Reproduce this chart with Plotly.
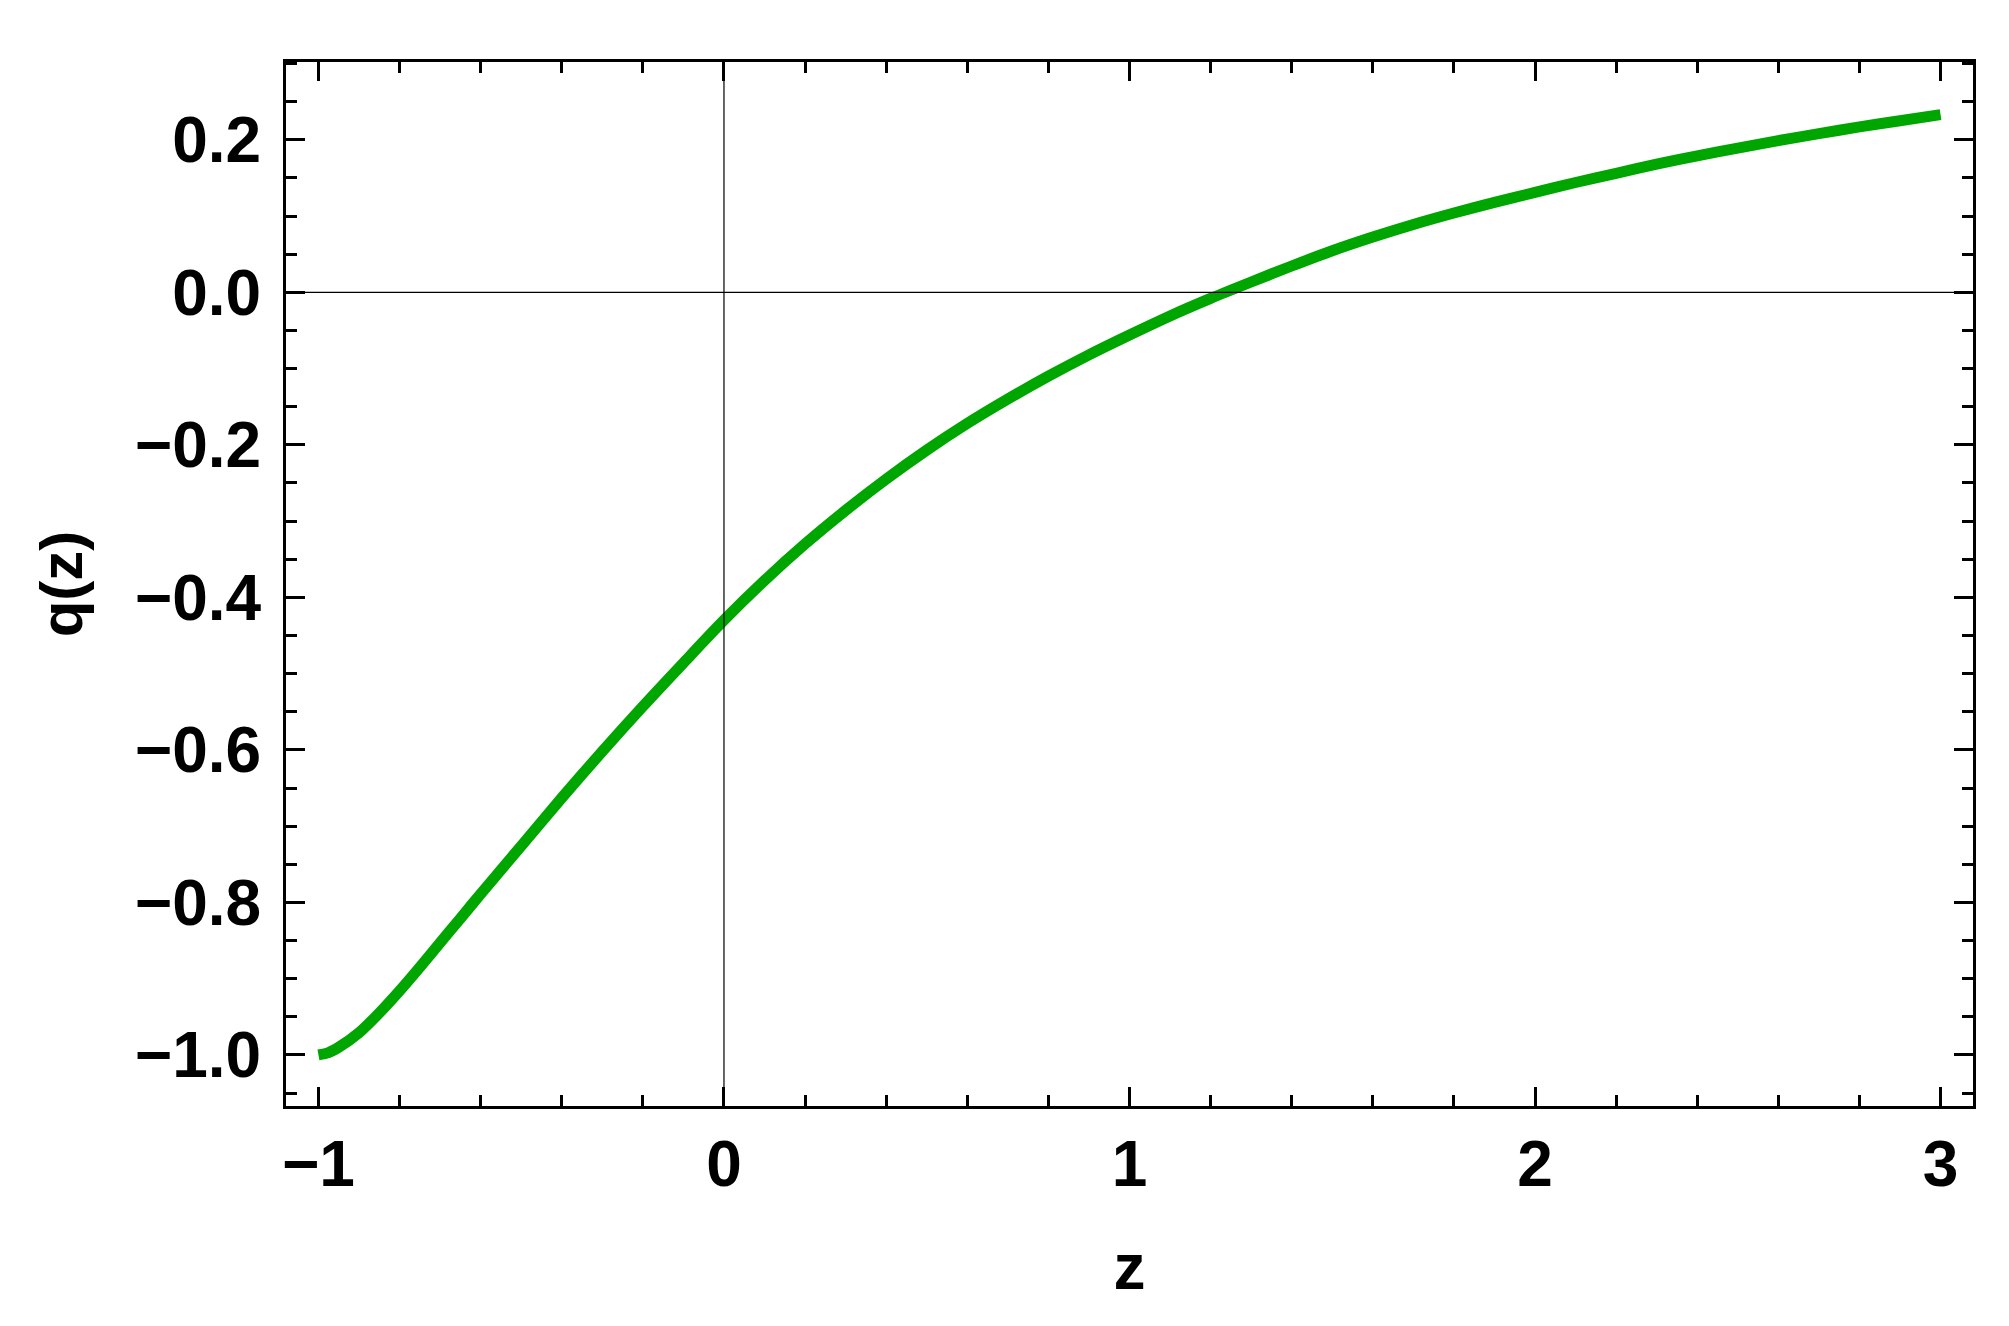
import plotly.graph_objects as go

# Data
z_vals = [-1.0, -0.975, -0.95, -0.9, -0.85, -0.8, -0.75, -0.7, -0.65, -0.6, -0.5, -0.4, -0.3, -0.2, -0.1,
          0.0, 0.1, 0.2, 0.3, 0.4, 0.5, 0.6, 0.7, 0.8, 0.9, 1.0, 1.1, 1.2, 1.3,
          1.4, 1.5, 1.6, 1.7, 1.8, 1.9, 2.0, 2.1, 2.2, 2.3, 2.4, 2.5, 2.6, 2.7, 2.8, 2.9, 3.0]
q_vals = [-1.000, -0.997, -0.990, -0.971, -0.945, -0.916, -0.885, -0.853, -0.821, -0.789, -0.726, -0.663, -0.602, -0.543, -0.486,
          -0.430, -0.378, -0.330, -0.286, -0.245, -0.207, -0.172, -0.140, -0.110, -0.082, -0.056, -0.031, -0.008, 0.0135,
          0.0345, 0.0545, 0.0725, 0.089, 0.104, 0.118, 0.131, 0.144, 0.156, 0.168, 0.179, 0.189, 0.199, 0.208, 0.217, 0.225, 0.233]

x_ticks = [-1, 0, 1, 2, 3]
y_ticks = [-1.0, -0.8, -0.6, -0.4, -0.2, 0.0, 0.2]

x_title = "z"
y_title = "q(z)"

FONT = dict(family="Liberation Sans, Arial, sans-serif", size=64, color="black", weight="bold")

fig = go.Figure()
fig.add_trace(go.Scatter(
    x=z_vals, y=q_vals, mode="lines",
    line=dict(color="#00A600", width=11, shape="spline", smoothing=0.8),
    showlegend=False, hoverinfo="skip",
))

axis_common = dict(
    showline=True, linecolor="black", linewidth=3, mirror="allticks",
    ticks="inside", ticklen=19, tickwidth=3, tickcolor="black",
    showgrid=False, zeroline=False,
    tickfont=FONT, layer="above traces",
)

fig.update_xaxes(
    range=[-1.08, 3.08], tickmode="array", tickvals=x_ticks,
    ticktext=[("\u2212" + str(abs(v))) if v < 0 else str(v) for v in x_ticks],
    minor=dict(ticks="inside", ticklen=11, tickwidth=3, tickcolor="black", dtick=0.2, tick0=0),
    title=dict(text=x_title, font=FONT, standoff=46),
    ticklabelstandoff=0,
    **axis_common,
)
fig.update_yaxes(
    range=[-1.067, 0.302], tickmode="array", tickvals=y_ticks,
    ticktext=[("\u2212" if v < 0 else "") + f"{abs(v):.1f}" for v in y_ticks],
    minor=dict(ticks="inside", ticklen=11, tickwidth=3, tickcolor="black", dtick=0.05, tick0=0),
    title=dict(text=y_title, font=dict(FONT, size=60), standoff=33),
    ticklabelstandoff=9,
    **axis_common,
)

# thin coordinate axes through the origin
fig.add_shape(type="line", xref="paper", x0=0, x1=1, yref="y", y0=0, y1=0,
              line=dict(color="black", width=1.2), layer="above")
fig.add_shape(type="line", xref="x", x0=0, x1=0, yref="paper", y0=0, y1=1,
              line=dict(color="black", width=1.2), layer="above")

# the page body has an 8px default margin, so the figure is 8px smaller
fig.update_layout(
    width=2001, height=1318,
    margin=dict(l=278, r=36, t=54, b=220, autoexpand=False),
    paper_bgcolor="white", plot_bgcolor="white",
    font=FONT,
)

fig.write_html("out.html")
